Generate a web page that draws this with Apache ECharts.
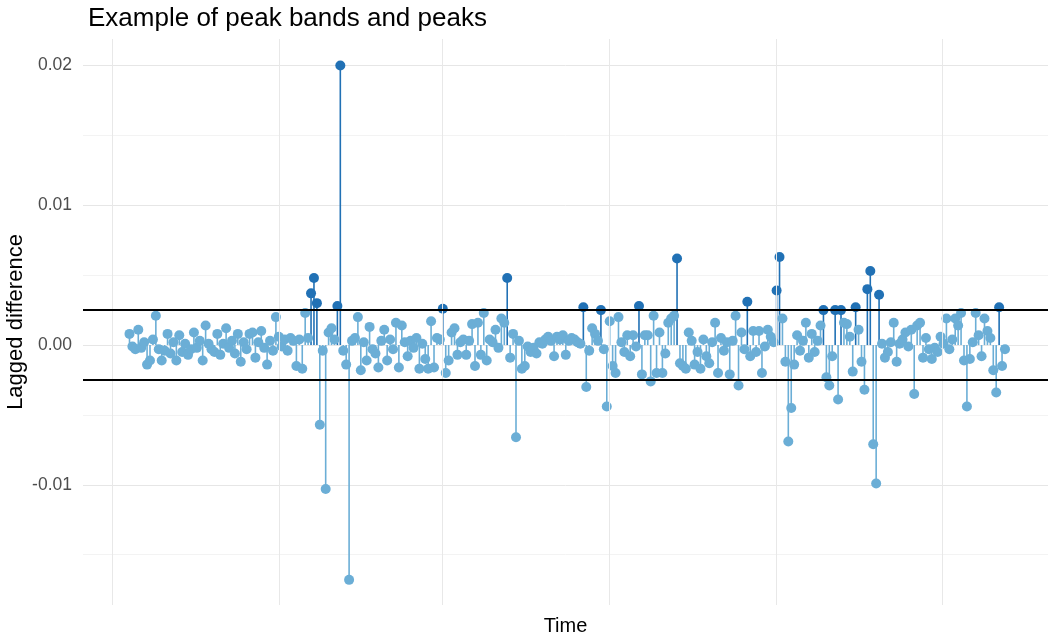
<!DOCTYPE html>
<html>
<head>
<meta charset="utf-8">
<script src="https://cdn.jsdelivr.net/npm/echarts/dist/echarts.min.js"></script>
<style>
html, body { margin: 0; background: #fff; }
#main { width: 1053px; height: 636px; }
</style>
</head>
<body>
<div id="main"></div>
<script type="text/javascript">
// lagged differences, one value per time step
var lagDiff = [
  0.0008, -0.0001, -0.0003, 0.0011, -0.0002, 0.0002, -0.0014, -0.0011, 0.0004, 0.0021,
  -0.0003, -0.0011, -0.0004, 0.0008, -0.0006, 0.0002, -0.0011, 0.0007, -0.0005, 0.0001,
  -0.0007, -0.0003, 0.0009, -0.0002, 0.0003, -0.0011, 0.0014, 0.0001, -0.0003, -0.0005,
  0.0008, -0.0007, 0.0001, 0.0012, -0.0002, 0.0003, -0.0006, 0.0008, -0.0012, 0.0002,
  -0.0003, 0.0008, 0.0009, -0.0009, 0.0002, 0.0010, -0.0002, -0.0014, 0.0003, -0.0004,
  0.0020, 0.0006, -0.0001, 0.0004, -0.0004, 0.0005, 0.0003, -0.0015, 0.0004, -0.0017,
  0.0023, 0.0005, 0.0037, 0.0048, 0.0030, -0.0057, -0.0004, -0.0103, 0.0009, 0.0012,
  0.0004, 0.0028, 0.0200, -0.0004, -0.0014, -0.0168, 0.0003, 0.0005, 0.0020, -0.0018,
  0.0002, -0.0011, 0.0013, -0.0003, -0.0006, -0.0016, 0.0003, 0.0011, -0.0011, 0.0004,
  -0.0003, 0.0016, -0.0016, 0.0014, 0.0002, -0.0008, 0.0003, -0.0002, 0.0005, -0.0017,
  0.0001, -0.0010, -0.0017, 0.0017, -0.0016, 0.0005, 0.0004, 0.0026, -0.0020, -0.0011,
  0.0009, 0.0012, -0.0007, 0.0002, 0.0004, -0.0007, 0.0003, 0.0015, -0.0015, 0.0016,
  -0.0007, 0.0023, -0.0011, 0.0004, 0.0002, 0.0011, -0.0002, 0.0019, 0.0016, 0.0048,
  -0.0009, 0.0008, -0.0066, 0.0003, -0.0017, -0.0015, -0.0001, -0.0005, -0.0002, -0.0006,
  0.0002, 0.0001, 0.0004, 0.0006, 0.0003, -0.0008, 0.0006, 0.0004, 0.0007, -0.0007,
  0.0003, 0.0005, 0.0004, 0.0002, 0.0001, 0.0027, -0.0030, -0.0004, 0.0012, 0.0008,
  0.0003, 0.0025, -0.0003, -0.0044, 0.0017, -0.0015, -0.0020, 0.0020, 0.0002, -0.0005,
  0.0007, -0.0008, 0.0007, -0.0001, 0.0028, -0.0021, 0.0007, 0.0007, -0.0026, 0.0021,
  -0.0020, 0.0009, -0.0020, -0.0006, 0.0016, 0.0019, 0.0021, 0.0062, -0.0013, -0.0015,
  -0.0017, 0.0009, 0.0003, -0.0014, -0.0005, -0.0017, 0.0004, -0.0008, -0.0013, 0.0002,
  0.0016, -0.0020, 0.0005, -0.0004, 0.0002, -0.0021, 0.0003, 0.0021, -0.0029, 0.0009,
  -0.0003, 0.0031, -0.0008, 0.0010, -0.0005, 0.0010, -0.0020, -0.0001, 0.0011, 0.0006,
  0.0002, 0.0039, 0.0063, 0.0019, -0.0012, -0.0069, -0.0045, -0.0014, 0.0007, -0.0004,
  0.0003, 0.0016, -0.0009, 0.0008, -0.0005, 0.0003, 0.0014, 0.0025, -0.0023, -0.0029,
  -0.0008, 0.0025, -0.0039, 0.0025, 0.0016, 0.0015, 0.0006, -0.0019, 0.0027, 0.0011,
  -0.0012, -0.0032, 0.0040, 0.0053, -0.0071, -0.0099, 0.0036, 0.0001, -0.0009, -0.0005,
  0.0002, 0.0016, -0.0012, 0.0001, 0.0004, 0.0009, -0.0001, 0.0011, -0.0035, 0.0014,
  0.0016, -0.0009, 0.0005, -0.0003, -0.0010, -0.0002, -0.0005, 0.0006, 0.0001, 0.0019,
  -0.0003, 0.0004, 0.0019, 0.0014, 0.0023, -0.0011, -0.0044, -0.0010, 0.0002, 0.0023,
  0.0007, -0.0008, 0.0019, 0.0010, 0.0005, -0.0018, -0.0034, 0.0027, -0.0015, -0.0003
];
// peak band limits
var peakBand = [-0.0025, 0.0025];
// positions of the (unlabelled) vertical time gridlines
var timeBreaks = [-5.0, 52.1, 107.7, 164.8, 221.8, 278.5];

var lightBlue = '#6baed6';
var darkBlue = '#2171b5';

var points = lagDiff.map(function (v, i) { return [i + 1, v]; });

function peakColor(params) {
    return params.value[1] >= peakBand[1] ? darkBlue : lightBlue;
}

var chart = echarts.init(document.getElementById('main'));

var option = {
    animation: false,
    backgroundColor: '#fff',
    textStyle: { fontFamily: 'Liberation Sans, Arial, sans-serif' },
    title: {
        text: 'Example of peak bands and peaks',
        left: 83,
        top: 1,
        textStyle: { fontSize: 26, fontWeight: 'normal', color: '#000' }
    },
    grid: {
        left: 83, right: 5, top: 39, bottom: 31,
        containLabel: false,
        outerBoundsMode: 'none'
    },
    xAxis: {
        type: 'value',
        min: -14.88,
        max: 314.69,
        axisLine: { show: false },
        axisTick: { show: false },
        axisLabel: { show: false },
        splitLine: { show: false },
        name: 'Time',
        nameLocation: 'middle',
        nameGap: 11,
        nameTextStyle: { fontSize: 20, color: '#000' }
    },
    yAxis: {
        type: 'value',
        min: -0.0186,
        max: 0.0219,
        splitNumber: 8,
        axisLine: { show: false },
        axisTick: { show: false },
        axisLabel: {
            fontSize: 17.5,
            color: '#4d4d4d',
            margin: 11,
            formatter: function (v) {
                var c = v * 100;
                return Math.abs(c - Math.round(c)) < 1e-6 ? (Math.round(c) / 100).toFixed(2) : '';
            }
        },
        splitLine: {
            lineStyle: {
                width: 1,
                color: ['rgba(0,0,0,0)', '#f3f3f3', '#e6e6e6', '#f3f3f3', '#e6e6e6',
                        '#f3f3f3', '#e6e6e6', '#f3f3f3', '#e6e6e6', 'rgba(0,0,0,0)']
            }
        },
        name: 'Lagged difference',
        nameLocation: 'middle',
        nameMoveOverlap: false,
        nameGap: 56,
        nameTextStyle: { fontSize: 22, color: '#000' }
    },
    series: [
        {
            // vertical time gridlines
            type: 'line',
            data: [],
            silent: true,
            z: 0,
            markLine: {
                silent: true,
                symbol: 'none',
                precision: 2,
                label: { show: false },
                lineStyle: { color: '#e8e8e8', width: 1, type: 'solid' },
                data: timeBreaks.map(function (t) { return { xAxis: t }; })
            }
        },
        {
            name: 'stems',
            type: 'bar',
            barWidth: 1.6,
            silent: true,
            z: 2,
            itemStyle: { color: peakColor },
            data: points
        },
        {
            name: 'points',
            type: 'scatter',
            symbolSize: 10,
            silent: true,
            z: 3,
            itemStyle: { color: peakColor, opacity: 1 },
            data: points,
            markLine: {
                silent: true,
                symbol: 'none',
                precision: 4,
                label: { show: false },
                lineStyle: { color: '#000', width: 2, type: 'solid' },
                data: [{ yAxis: peakBand[1] }, { yAxis: peakBand[0] }]
            }
        }
    ]
};

chart.setOption(option);
</script>
</body>
</html>
